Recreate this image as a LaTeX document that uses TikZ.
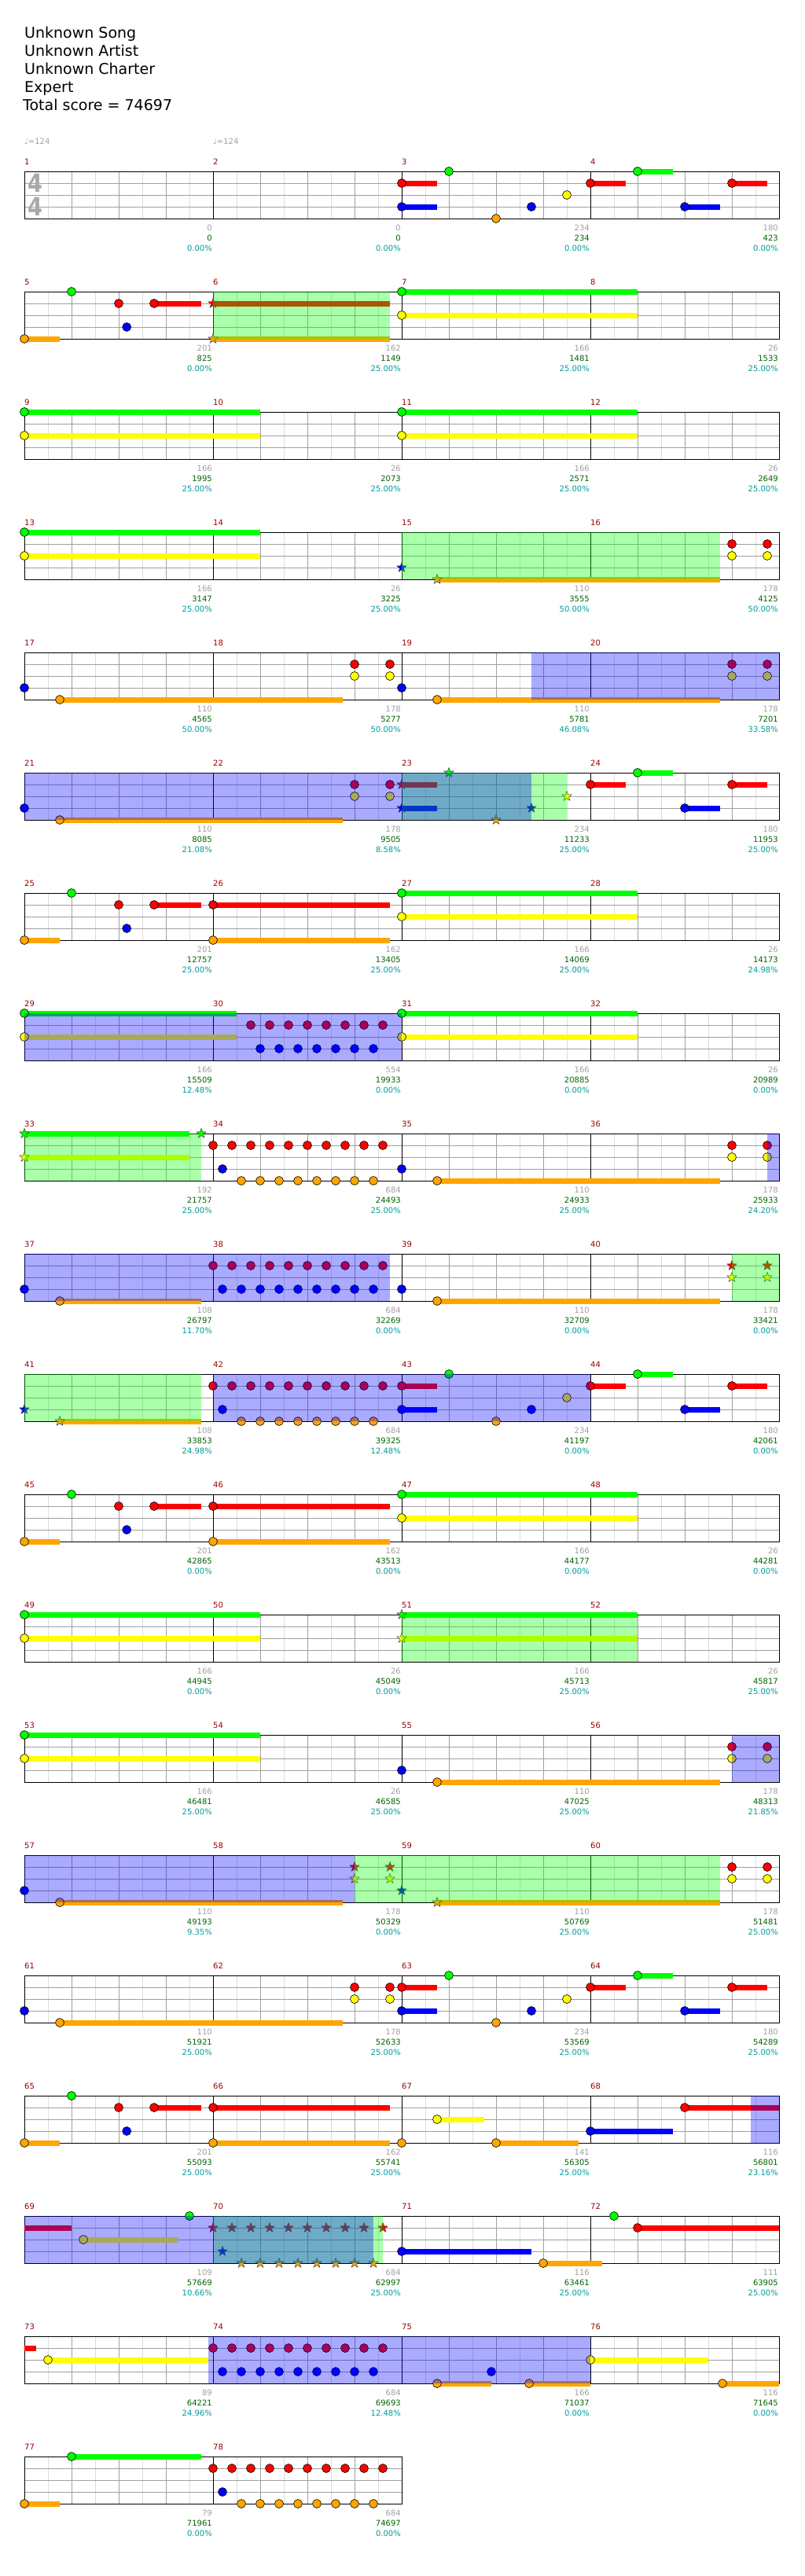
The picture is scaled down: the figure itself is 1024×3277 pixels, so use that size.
\documentclass[tikz,border=0pt]{standalone}
\usepackage{fontspec}
\setmainfont{DejaVu Sans}
\usetikzlibrary{calc}
\definecolor{chG}{HTML}{00FF00}
\definecolor{chR}{HTML}{FF0000}
\definecolor{chY}{HTML}{FFFF00}
\definecolor{chB}{HTML}{0000FF}
\definecolor{chO}{HTML}{FFA500}
\definecolor{chGrid}{HTML}{A0A0A0}
\definecolor{chHalf}{HTML}{DCDCDC}
\definecolor{chNum}{HTML}{990000}
\definecolor{chScore}{HTML}{006400}
\definecolor{chPct}{HTML}{009B9B}
\definecolor{chSig}{HTML}{A8A8A8}
\def\lnG{0}\def\lnR{1}\def\lnY{2}\def\lnB{3}\def\lnO{4}
\tikzset{
 chart/.style={x=1pt,y=-1pt,line cap=butt},
 track/.style={shift={(31pt,{-218pt-153pt*(#1)})},x=60pt,y=-15pt},
 halfline/.style={draw=chHalf,line width=.9pt},
 beatline/.style={draw=chGrid,line width=.9pt},
 barline/.style={draw=black,line width=1pt},
 gemnote/.style={draw=black,line width=.6pt},
 starnote/.style={draw=black!75,line width=.5pt,line join=miter},
 holdbar/.style={line width=7pt},
 phrasefill/.style={fill=chG,fill opacity=.333},
 boostfill/.style={fill=chB,fill opacity=.333},
 chtext/.style={font=\fontsize{10}{12}\selectfont,inner sep=0pt},
 barnum/.style={chtext,text=chNum,anchor=west},
 statgap/.style={chtext,text=chGrid,anchor=east,xshift=-1pt},
 statscore/.style={chtext,text=chScore,anchor=east,xshift=-1pt},
 statpct/.style={chtext,text=chPct,anchor=east,xshift=-1pt},
 heading/.style={font=\fontsize{19}{23}\selectfont,anchor=base west,inner sep=0pt},
 tempomark/.style={chtext,text=chGrid,anchor=base west},
 timesig/.style={font=\bfseries\fontsize{32}{32}\selectfont,text=chSig,inner sep=0pt,xscale=.85}
}
% staff of one line of the chart: first measure, number of measures
\newcommand{\staff}[2]{%
 \pgfmathtruncatemacro{\nb}{4*#2}%
 \foreach \h in {1,...,\nb} \draw[halfline] ({\h-.5},0) -- ({\h-.5},4);
 \foreach \h in {1,...,\nb} \draw[beatline] (\h,0) -- (\h,4);
 \foreach \l in {1,2,3} \draw[beatline] (0,\l) -- (\nb,\l);
 \foreach \m in {1,...,#2}{%
   \pgfmathtruncatemacro{\num}{#1+\m-1}
   \draw[barline] ({4*\m-4},0) -- ({4*\m-4},4);
   \node[barnum] (bar\num) at ({4*\m-4},-.8) {\num};
 }
 \draw[barline] (0,0) rectangle (\nb,4);
}
\newcommand{\stats}[2]{%
 \foreach \g/\s/\p [count=\k] in {#2}{%
   \pgfmathtruncatemacro{\num}{#1+\k-1}
   \node[statgap] (gap\num) at (4*\k,4.78) {\g};
   \node[statscore] (score\num) at (4*\k,5.65) {\s};
   \node[statpct] (pct\num) at (4*\k,6.51) {\p\%};
 }}
\newcommand{\gem}[2]{\filldraw[gemnote,fill=ch#2] (#1,\csname ln#2\endcsname) circle[radius=5.5pt];}
\newcommand{\susbar}[3]{\draw[holdbar,draw=ch#3] (#1,\csname ln#3\endcsname) -- (#2,\csname ln#3\endcsname);}
\newcommand{\holdgem}[3]{\susbar{#1}{#2}{#3}\gem{#1}{#3}}
\newcommand{\spk}[2]{\filldraw[starnote,fill=ch#2] (#1,\csname ln#2\endcsname) +(90:6.5pt) -- +(126:2.7pt) -- +(162:6.5pt) -- +(198:2.7pt) -- +(234:6.5pt) -- +(270:2.7pt) -- +(306:6.5pt) -- +(342:2.7pt) -- +(18:6.5pt) -- +(54:2.7pt) -- cycle;}
\newcommand{\spkhold}[3]{\susbar{#1}{#2}{#3}\spk{#1}{#3}}
\newcommand{\spphrase}[2]{\fill[phrasefill] (#1,0) rectangle (#2,4);}
\newcommand{\spboost}[2]{\fill[boostfill] (#1,0) rectangle (#2,4);}
\def\redrun{4,4.4,4.8,5.2,5.6,6,6.4,6.8,7.2,7.6}
\def\bluerun{4.2,4.6,5,5.4,5.8,6.2,6.6,7,7.4}
\def\orangerun{4.6,5,5.4,5.8,6.2,6.6,7,7.4}
% recurring figures
\newcommand{\riffA}{\holdgem{0}{.75}{O}\gem{1}{G}\gem{2}{R}\holdgem{2.75}{3.75}{R}\gem{2.17}{B}}
\newcommand{\riffB}{\holdgem{12}{12.75}{R}\holdgem{13}{13.75}{G}\holdgem{14}{14.75}{B}\holdgem{15}{15.75}{R}}
\newcommand{\pairs}[1]{\gem{#1}{R}\gem{#1+.75}{R}\gem{#1}{Y}\gem{#1+.75}{Y}}

\begin{document}
\begin{tikzpicture}[chart]
\useasboundingbox[fill=white] (0,0) rectangle (1024,3277);
\node[heading] (song) at (31,48) {Unknown Song};
\node[heading] (artist) at (31,71.2) {Unknown Artist};
\node[heading] (charter) at (31,94.4) {Unknown Charter};
\node[heading] (level) at (31,117.6) {Expert};
\node[heading] (total) at (29,140.8) {Total score = 74697};

\begin{scope}[track=0]
 \staff{1}{4}
 \node[tempomark] (tempoA) at (0,-2.27) {♩=124};
 \node[tempomark] (tempoB) at (4,-2.27) {♩=124};
 \node[timesig] (sigUp) at (.225,1) {4};
 \node[timesig] (sigDown) at (.225,3) {4};
 \holdgem{8}{8.75}{R}\holdgem{8}{8.75}{B}\gem{9}{G}\gem{10}{O}\gem{10.75}{B}\gem{11.5}{Y}
 \riffB
 \stats{1}{0/0/0.00,0/0/0.00,234/234/0.00,180/423/0.00}
\end{scope}

\begin{scope}[track=1]
 \staff{5}{4}
 \riffA
 \spkhold{4}{7.75}{R}\spkhold{4}{7.75}{O}
 \holdgem{8}{13}{G}\holdgem{8}{13}{Y}
 \spphrase{4}{7.75}
 \stats{5}{201/825/0.00,162/1149/25.00,166/1481/25.00,26/1533/25.00}
\end{scope}

\begin{scope}[track=2]
 \staff{9}{4}
 \holdgem{0}{5}{G}\holdgem{0}{5}{Y}\holdgem{8}{13}{G}\holdgem{8}{13}{Y}
 \stats{9}{166/1995/25.00,26/2073/25.00,166/2571/25.00,26/2649/25.00}
\end{scope}

\begin{scope}[track=3]
 \staff{13}{4}
 \holdgem{0}{5}{G}\holdgem{0}{5}{Y}
 \spk{8}{B}\spkhold{8.75}{14.75}{O}
 \pairs{15}
 \spphrase{8}{14.75}
 \stats{13}{166/3147/25.00,26/3225/25.00,110/3555/50.00,178/4125/50.00}
\end{scope}

\begin{scope}[track=4]
 \staff{17}{4}
 \gem{0}{B}\holdgem{.75}{6.75}{O}\pairs{7}
 \gem{8}{B}\holdgem{8.75}{14.75}{O}\pairs{15}
 \spboost{10.75}{16}
 \stats{17}{110/4565/50.00,178/5277/50.00,110/5781/46.08,178/7201/33.58}
\end{scope}

\begin{scope}[track=5]
 \staff{21}{4}
 \gem{0}{B}\holdgem{.75}{6.75}{O}\pairs{7}
 \spkhold{8}{8.75}{R}\spkhold{8}{8.75}{B}\spk{9}{G}\spk{10}{O}\spk{10.75}{B}\spk{11.5}{Y}
 \riffB
 \spphrase{8}{11.5}\spboost{0}{10.75}
 \stats{21}{110/8085/21.08,178/9505/8.58,234/11233/25.00,180/11953/25.00}
\end{scope}

\begin{scope}[track=6]
 \staff{25}{4}
 \riffA
 \holdgem{4}{7.75}{R}\holdgem{4}{7.75}{O}
 \holdgem{8}{13}{G}\holdgem{8}{13}{Y}
 \stats{25}{201/12757/25.00,162/13405/25.00,166/14069/25.00,26/14173/24.98}
\end{scope}

\begin{scope}[track=7]
 \staff{29}{4}
 \holdgem{0}{4.5}{G}\holdgem{0}{4.5}{Y}
 \foreach \t in {4.8,5.2,5.6,6,6.4,6.8,7.2,7.6} {\gem{\t}{R}}
 \foreach \t in {5,5.4,5.8,6.2,6.6,7,7.4} {\gem{\t}{B}}
 \holdgem{8}{13}{G}\holdgem{8}{13}{Y}
 \spboost{0}{8}
 \stats{29}{166/15509/12.48,554/19933/0.00,166/20885/0.00,26/20989/0.00}
\end{scope}

\begin{scope}[track=8]
 \staff{33}{4}
 \spkhold{0}{3.5}{G}\spkhold{0}{3.5}{Y}\spk{3.75}{G}
 \foreach \t in \redrun {\gem{\t}{R}}
 \foreach \t in \orangerun {\gem{\t}{O}}
 \gem{4.2}{B}\gem{8}{B}\holdgem{8.75}{14.75}{O}\pairs{15}
 \spphrase{0}{3.75}\spboost{15.75}{16}
 \stats{33}{192/21757/25.00,684/24493/25.00,110/24933/25.00,178/25933/24.20}
\end{scope}

\begin{scope}[track=9]
 \staff{37}{4}
 \gem{0}{B}\holdgem{.75}{3.75}{O}
 \foreach \t in \redrun {\gem{\t}{R}}
 \foreach \t in \bluerun {\gem{\t}{B}}
 \gem{8}{B}\holdgem{8.75}{14.75}{O}
 \spk{15}{R}\spk{15.75}{R}\spk{15}{Y}\spk{15.75}{Y}
 \spboost{0}{7.75}\spphrase{15}{16}
 \stats{37}{108/26797/11.70,684/32269/0.00,110/32709/0.00,178/33421/0.00}
\end{scope}

\begin{scope}[track=10]
 \staff{41}{4}
 \spk{0}{B}\spkhold{.75}{3.75}{O}
 \foreach \t in \redrun {\gem{\t}{R}}
 \foreach \t in \orangerun {\gem{\t}{O}}
 \gem{4.2}{B}\holdgem{8}{8.75}{R}\holdgem{8}{8.75}{B}
 \gem{9}{G}\gem{10}{O}\gem{10.75}{B}\gem{11.5}{Y}
 \riffB
 \spphrase{0}{3.75}\spboost{4}{12}
 \stats{41}{108/33853/24.98,684/39325/12.48,234/41197/0.00,180/42061/0.00}
\end{scope}

\begin{scope}[track=11]
 \staff{45}{4}
 \riffA
 \holdgem{4}{7.75}{R}\holdgem{4}{7.75}{O}
 \holdgem{8}{13}{G}\holdgem{8}{13}{Y}
 \stats{45}{201/42865/0.00,162/43513/0.00,166/44177/0.00,26/44281/0.00}
\end{scope}

\begin{scope}[track=12]
 \staff{49}{4}
 \holdgem{0}{5}{G}\holdgem{0}{5}{Y}\spkhold{8}{13}{G}\spkhold{8}{13}{Y}
 \spphrase{8}{13}
 \stats{49}{166/44945/0.00,26/45049/0.00,166/45713/25.00,26/45817/25.00}
\end{scope}

\begin{scope}[track=13]
 \staff{53}{4}
 \holdgem{0}{5}{G}\holdgem{0}{5}{Y}
 \gem{8}{B}\holdgem{8.75}{14.75}{O}\pairs{15}
 \spboost{15}{16}
 \stats{53}{166/46481/25.00,26/46585/25.00,110/47025/25.00,178/48313/21.85}
\end{scope}

\begin{scope}[track=14]
 \staff{57}{4}
 \gem{0}{B}\holdgem{.75}{6.75}{O}
 \spk{7}{R}\spk{7.75}{R}\spk{7}{Y}\spk{7.75}{Y}
 \spk{8}{B}\spkhold{8.75}{14.75}{O}\pairs{15}
 \spphrase{7}{14.75}\spboost{0}{7}
 \stats{57}{110/49193/9.35,178/50329/0.00,110/50769/25.00,178/51481/25.00}
\end{scope}

\begin{scope}[track=15]
 \staff{61}{4}
 \gem{0}{B}\holdgem{.75}{6.75}{O}\pairs{7}
 \holdgem{8}{8.75}{R}\holdgem{8}{8.75}{B}\gem{9}{G}\gem{10}{O}\gem{10.75}{B}\gem{11.5}{Y}
 \riffB
 \stats{61}{110/51921/25.00,178/52633/25.00,234/53569/25.00,180/54289/25.00}
\end{scope}

\begin{scope}[track=16]
 \staff{65}{4}
 \riffA
 \holdgem{4}{7.75}{R}\holdgem{4}{7.75}{O}
 \gem{8}{O}\holdgem{8.75}{9.75}{Y}\holdgem{10}{11.75}{O}\holdgem{12}{13.75}{B}\holdgem{14}{16}{R}
 \spboost{15.4}{16}
 \stats{65}{201/55093/25.00,162/55741/25.00,141/56305/25.00,116/56801/23.16}
\end{scope}

\begin{scope}[track=17]
 \staff{69}{4}
 \susbar{0}{1}{R}\holdgem{1.25}{3.25}{Y}\gem{3.5}{G}
 \foreach \t in \redrun {\spk{\t}{R}}
 \foreach \t in \orangerun {\spk{\t}{O}}
 \spk{4.2}{B}
 \holdgem{8}{10.75}{B}\holdgem{11}{12.25}{O}\gem{12.5}{G}\holdgem{13}{16}{R}
 \spphrase{4}{7.6}\spboost{0}{7.4}
 \stats{69}{109/57669/10.66,684/62997/25.00,116/63461/25.00,111/63905/25.00}
\end{scope}

\begin{scope}[track=18]
 \staff{73}{4}
 \susbar{0}{.25}{R}\holdgem{.5}{3.9}{Y}
 \foreach \t in \redrun {\gem{\t}{R}}
 \foreach \t in \bluerun {\gem{\t}{B}}
 \holdgem{8.75}{9.9}{O}\gem{9.9}{B}\holdgem{10.7}{12}{O}
 \holdgem{12}{14.5}{Y}\holdgem{14.8}{16}{O}
 \spboost{3.9}{12}
 \stats{73}{89/64221/24.96,684/69693/12.48,166/71037/0.00,116/71645/0.00}
\end{scope}

\begin{scope}[track=19]
 \staff{77}{2}
 \holdgem{0}{.75}{O}\holdgem{1}{3.75}{G}
 \foreach \t in \redrun {\gem{\t}{R}}
 \gem{4.2}{B}
 \foreach \t in \orangerun {\gem{\t}{O}}
 \stats{77}{79/71961/0.00,684/74697/0.00}
\end{scope}
\end{tikzpicture}
\end{document}
